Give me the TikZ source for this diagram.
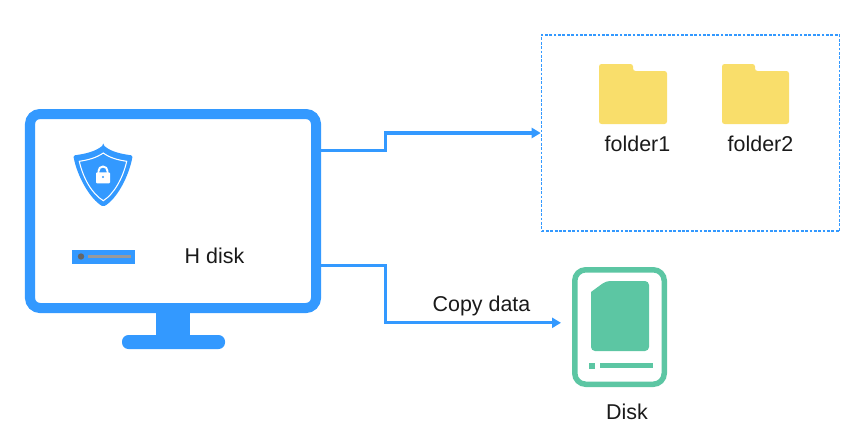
\documentclass[tikz,border=0pt]{standalone}
\usepackage{fontspec}
\setmainfont{Liberation Sans}
\usetikzlibrary{arrows.meta}

\definecolor{screenblue}{HTML}{3399FF}
\definecolor{diskgreen}{HTML}{5CC6A3}
\definecolor{folderyellow}{HTML}{F9DE6B}
\definecolor{labelblack}{HTML}{1A1A1A}

\tikzset{
  flow/.style={screenblue, line width=0.87pt, -{Triangle[length=0.09cm, width=0.1cm]}},
  label/.style={text=labelblack, font=\fontsize{6.1}{7}\selectfont, inner sep=0pt},
  folderfill/.style={fill=folderyellow, rounded corners=0.025cm}
}

\begin{document}
\begin{tikzpicture}
\useasboundingbox (0, 0) rectangle (8.55, 4.44);

% monitor
\fill [screenblue] (1.56, 1.05) rectangle (1.90, 1.35);
\fill [screenblue, rounded corners=0.065cm] (1.22, 0.95) rectangle (2.25, 1.09);
\node (monitor) [draw=screenblue, fill=white, line width=0.1cm, rounded corners=0.1cm,
  minimum width=2.86cm, minimum height=1.94cm] at (1.73, 2.33) {};

% shield
\fill [screenblue, rounded corners=0.015cm] (1.033, 2.99) .. controls (1.11, 2.92) and (1.22, 2.90) .. (1.327, 2.885)
  .. controls (1.29, 2.68) and (1.17, 2.45) .. (1.033, 2.373)
  .. controls (0.90, 2.45) and (0.77, 2.68) .. (0.733, 2.885)
  .. controls (0.84, 2.90) and (0.95, 2.92) .. cycle;
\draw [white, line width=0.3pt] (1.033, 2.91) .. controls (1.10, 2.86) and (1.18, 2.84) .. (1.267, 2.827)
  .. controls (1.23, 2.66) and (1.14, 2.50) .. (1.033, 2.433)
  .. controls (0.92, 2.50) and (0.83, 2.66) .. (0.793, 2.827)
  .. controls (0.88, 2.84) and (0.96, 2.86) .. cycle;
\fill [white, rounded corners=0.01cm] (0.96, 2.607) rectangle (1.10, 2.717);
\draw [white, line width=0.55pt] (0.985, 2.71) -- (0.985, 2.73) arc [start angle=180, end angle=0, radius=0.045] -- (1.075, 2.71);
\fill [screenblue] (1.03, 2.67) circle [radius=0.012];

% hard disk bar
\node (bar) [fill=screenblue, minimum width=0.63cm, minimum height=0.14cm, inner sep=0pt] at (1.035, 1.87) {};
\fill [black!60] (0.81, 1.875) circle [radius=0.032];
\fill [black!40] (0.88, 1.86) rectangle (1.31, 1.89);
\node (hdisk) [label] at (2.145, 1.885) {H disk};

% folders
\node (files) [draw=screenblue, dashed, line width=0.45pt, dash pattern=on 0.8pt off 0.45pt,
  minimum width=2.98cm, minimum height=1.965cm, inner sep=0pt] at (6.905, 3.11) {};
\fill [folderfill] (5.99, 3.20) -- (6.67, 3.20) -- (6.67, 3.73) -- (6.33, 3.73) -- (6.33, 3.80) -- (5.99, 3.80) -- cycle;
\fill [folderfill] (7.22, 3.20) -- (7.89, 3.20) -- (7.89, 3.73) -- (7.55, 3.73) -- (7.55, 3.80) -- (7.22, 3.80) -- cycle;
\node (folderA) [label] at (6.375, 3.00) {folder1};
\node (folderB) [label] at (7.605, 3.00) {folder2};

% removable disk
\node (disk) [draw=diskgreen, line width=0.055cm, rounded corners=0.11cm,
  minimum width=0.895cm, minimum height=1.145cm, inner sep=0pt] at (6.195, 1.17) {};
\fill [diskgreen, rounded corners=0.04cm] (5.91, 0.93) -- (6.49, 0.93) -- (6.49, 1.63) -- (6.06, 1.63)
  [sharp corners] -- (5.91, 1.52) [rounded corners=0.04cm] -- cycle;
\fill [diskgreen] (5.89, 0.75) rectangle (5.95, 0.81);
\fill [diskgreen] (6.00, 0.76) rectangle (6.53, 0.81);
\node (disklabel) [label] at (6.27, 0.32) {Disk};

% connectors
\coordinate (disktip) at (5.61, 1.212);
\draw [flow] ([yshift=0.605cm]monitor.east) -- ++(0.647, 0) |- (files.west);
\draw [flow] ([yshift=-0.545cm]monitor.east) -- ++(0.647, 0) |- (disktip);
\node (copy) [label] at (4.815, 1.385) {Copy data};
\end{tikzpicture}
\end{document}
